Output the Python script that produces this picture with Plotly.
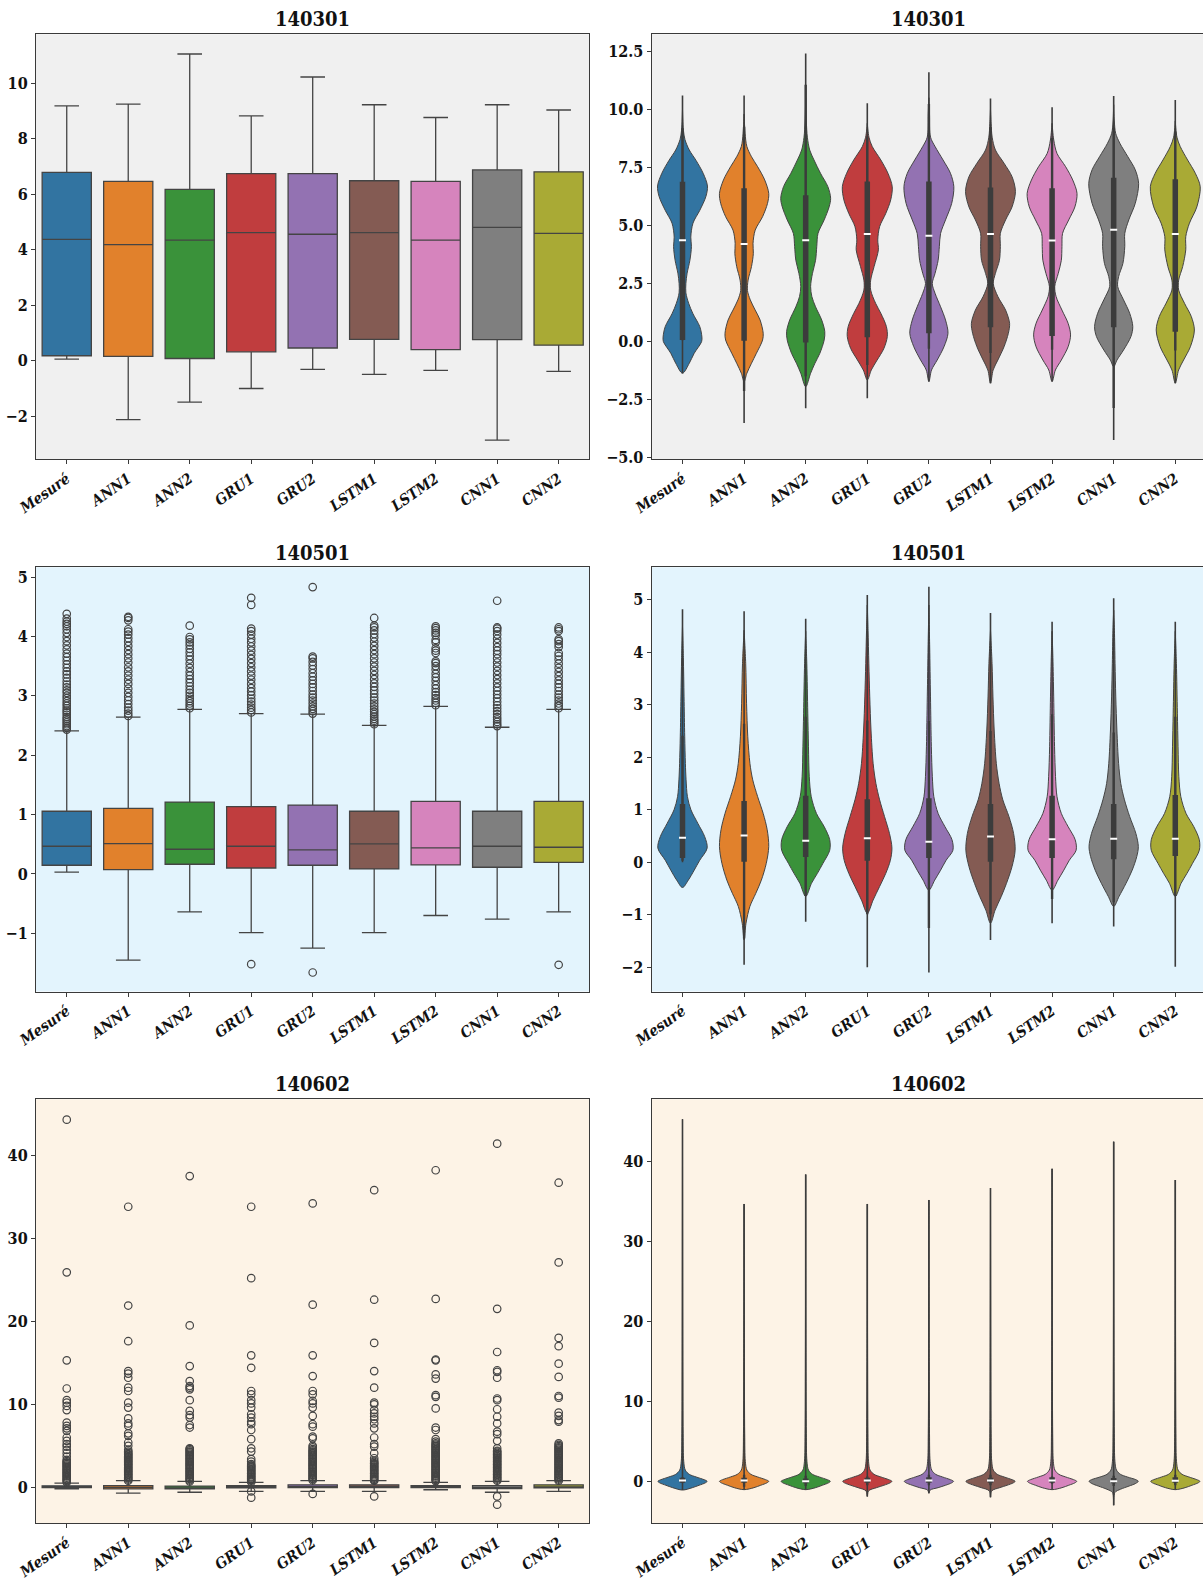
import plotly.graph_objects as go
from plotly.subplots import make_subplots

# ---------------------------------------------------------------- categories
models = ["Mesuré", "ANN1", "ANN2", "GRU1", "GRU2", "LSTM1", "LSTM2", "CNN1", "CNN2"]
colors = ["#3274a1", "#e1812c", "#3a923a", "#c03d3e", "#9372b2",
          "#845b53", "#d684bd", "#7f7f7f", "#a9aa35"]
stations = ["140301", "140501", "140602"]
panel_bg = ["#f0f0f0", "#e3f4fd", "#fdf3e6"]

# ---------------------------------------------------------------- box plots
# station 140301
box_140301_q1 = [0.18, 0.16, 0.08, 0.32, 0.46, 0.77, 0.40, 0.76, 0.56]
box_140301_med = [4.375, 4.19, 4.35, 4.62, 4.56, 4.62, 4.35, 4.81, 4.59]
box_140301_q3 = [6.79, 6.47, 6.18, 6.75, 6.75, 6.49, 6.47, 6.88, 6.81]
box_140301_lo = [0.06, -2.12, -1.49, -1.00, -0.31, -0.49, -0.35, -2.86, -0.38]
box_140301_hi = [9.19, 9.25, 11.06, 8.83, 10.23, 9.23, 8.77, 9.23, 9.04]
box_140301_out = [[], [], [], [], [], [], [], [], []]

# station 140501
box_140501_q1 = [0.146, 0.073, 0.163, 0.10, 0.146, 0.084, 0.152, 0.112, 0.196]
box_140501_med = [0.466, 0.51, 0.415, 0.466, 0.404, 0.505, 0.438, 0.466, 0.449]
box_140501_q3 = [1.055, 1.105, 1.21, 1.134, 1.16, 1.055, 1.223, 1.055, 1.223]
box_140501_lo = [0.03, -1.45, -0.64, -0.99, -1.25, -0.99, -0.70, -0.76, -0.64]
box_140501_hi = [2.41, 2.64, 2.77, 2.70, 2.69, 2.50, 2.82, 2.47, 2.77]
box_140501_out = [
    [2.43, 2.46, 2.49, 2.52, 2.55, 2.58, 2.61, 2.64, 2.68, 2.72, 2.75, 2.79, 2.83, 2.87,
     2.91, 2.96, 3.00, 3.05, 3.09, 3.14, 3.19, 3.24, 3.30, 3.36, 3.41, 3.47, 3.53, 3.59,
     3.65, 3.71, 3.78, 3.85, 3.92, 3.99, 4.06, 4.12, 4.17, 4.21, 4.25, 4.30, 4.38],
    [2.66, 2.70, 2.75, 2.80, 2.86, 2.92, 2.98, 3.05, 3.12, 3.20, 3.27, 3.34, 3.41, 3.48,
     3.56, 3.63, 3.70, 3.77, 3.84, 3.91, 3.97, 4.03, 4.08, 4.12, 4.27, 4.31, 4.33],
    [2.79, 2.83, 2.87, 2.91, 2.95, 3.00, 3.05, 3.10, 3.16, 3.22, 3.28, 3.34, 3.40, 3.47,
     3.54, 3.61, 3.67, 3.73, 3.79, 3.85, 3.90, 3.95, 3.99, 4.18],
    [2.72, 2.76, 2.80, 2.85, 2.90, 2.95, 3.01, 3.07, 3.13, 3.20, 3.27, 3.34, 3.41, 3.48,
     3.55, 3.62, 3.69, 3.76, 3.83, 3.90, 3.96, 4.03, 4.09, 4.13, 4.53, 4.65, -1.52],
    [2.70, 2.74, 2.78, 2.82, 2.87, 2.92, 2.97, 3.02, 3.08, 3.14, 3.20, 3.26, 3.32, 3.38,
     3.45, 3.51, 3.57, 3.63, 3.66, 4.83, -1.66],
    [2.52, 2.55, 2.58, 2.61, 2.65, 2.69, 2.73, 2.77, 2.82, 2.87, 2.92, 2.97, 3.03, 3.09,
     3.15, 3.21, 3.28, 3.35, 3.42, 3.49, 3.56, 3.63, 3.70, 3.77, 3.84, 3.91, 3.98, 4.04,
     4.10, 4.15, 4.18, 4.31],
    [2.84, 2.88, 2.92, 2.96, 3.01, 3.06, 3.12, 3.18, 3.25, 3.31, 3.37, 3.44, 3.50, 3.55,
     3.58, 3.72, 3.76, 3.80, 3.90, 3.94, 4.02, 4.06, 4.10, 4.14, 4.17],
    [2.49, 2.52, 2.56, 2.60, 2.64, 2.69, 2.74, 2.79, 2.84, 2.90, 2.96, 3.02, 3.08, 3.14,
     3.21, 3.28, 3.35, 3.42, 3.49, 3.56, 3.63, 3.70, 3.76, 3.82, 3.89, 3.96, 4.03, 4.09,
     4.13, 4.15, 4.60],
    [2.79, 2.83, 2.87, 2.92, 2.97, 3.02, 3.08, 3.14, 3.20, 3.26, 3.33, 3.40, 3.47, 3.54,
     3.61, 3.67, 3.72, 3.82, 3.87, 3.92, 3.95, 4.09, 4.12, 4.15, -1.53],
]

# station 140602
box_140602_q1 = [-0.05, -0.20, -0.20, -0.08, -0.05, -0.05, -0.05, -0.15, -0.08]
box_140602_med = [0.03, -0.02, -0.08, 0.02, 0.05, 0.06, 0.03, -0.03, 0.00]
box_140602_q3 = [0.18, 0.20, 0.15, 0.20, 0.30, 0.30, 0.20, 0.20, 0.30]
box_140602_lo = [-0.20, -0.70, -0.60, -0.50, -0.50, -0.50, -0.30, -0.60, -0.50]
box_140602_hi = [0.50, 0.80, 0.70, 0.60, 0.80, 0.80, 0.60, 0.70, 0.80]
box_140602_out = [
    [44.3, 25.9, 15.3, 11.9, 10.5, 10.2, 9.8, 9.3, 7.8, 7.4, 7.1, 6.8, 6.0, 5.6, 5.2, 4.9,
     4.5, 4.1, 3.7, 3.3, 3.15, 3.0, 2.9, 2.75, 2.6, 2.5, 2.35, 2.2, 2.1, 1.95, 1.8, 1.7,
     1.55, 1.4, 1.3, 1.15, 1.0, 0.9, 0.75, 0.6],
    [33.8, 21.9, 17.6, 14.0, 13.7, 13.2, 12.0, 11.6, 10.2, 9.6, 8.3, 7.7, 7.4, 6.5, 6.2, 5.4,
     5.0, 4.5, 4.3, 4.15, 4.0, 3.9, 3.75, 3.6, 3.5, 3.35, 3.2, 3.1, 2.95, 2.8, 2.7, 2.55,
     2.4, 2.3, 2.15, 2.0, 1.9, 1.75, 1.6, 1.5, 1.35, 1.2, 1.1, 0.95, 0.8],
    [37.5, 19.5, 14.6, 12.8, 12.2, 12.0, 11.8, 10.5, 9.2, 8.7, 8.4, 7.5, 7.2, 4.7, 4.6, 4.45,
     4.3, 4.2, 4.05, 3.9, 3.8, 3.65, 3.5, 3.4, 3.25, 3.1, 3.0, 2.85, 2.7, 2.6, 2.45, 2.3,
     2.2, 2.05, 1.9, 1.8, 1.65, 1.5, 1.4, 1.25, 1.1, 1.0, 0.85, 0.7],
    [33.8, 25.2, 15.9, 14.4, 11.6, 11.2, 10.5, 10.1, 9.6, 8.8, 8.4, 7.9, 7.6, 6.9, 5.8, 4.7,
     4.3, 3.4, 3.1, 2.8, 2.65, 2.5, 2.4, 2.25, 2.1, 2.0, 1.85, 1.7, 1.6, 1.45, 1.3, 1.2,
     1.05, 0.9, 0.8, 0.65, -0.5, -1.25],
    [34.2, 22.0, 15.9, 13.4, 11.6, 11.2, 10.4, 10.1, 9.6, 8.6, 7.6, 7.3, 6.1, 5.9, 5.0, 4.8,
     4.6, 4.45, 4.3, 4.2, 4.05, 3.9, 3.8, 3.65, 3.5, 3.4, 3.25, 3.1, 3.0, 2.85, 2.7, 2.6,
     2.45, 2.3, 2.2, 2.05, 1.9, 1.8, 1.65, 1.5, 1.4, 1.25, 1.1, 1.0, 0.85, -0.8],
    [35.8, 22.6, 17.4, 14.0, 12.0, 10.2, 10.0, 9.3, 8.9, 8.5, 8.2, 7.7, 7.1, 6.0, 5.2, 4.9,
     4.1, 3.5, 3.2, 3.05, 2.9, 2.8, 2.65, 2.5, 2.4, 2.25, 2.1, 2.0, 1.85, 1.7, 1.6, 1.45,
     1.3, 1.2, 1.05, 0.9, 0.8, -1.1],
    [38.2, 22.7, 15.4, 15.3, 13.6, 13.1, 11.1, 10.9, 9.5, 7.2, 6.9, 5.8, 5.5, 5.3, 5.15,
     5.0, 4.9, 4.75, 4.6, 4.5, 4.35, 4.2, 4.1, 3.95, 3.8, 3.7, 3.55, 3.4, 3.3, 3.15, 3.0,
     2.9, 2.75, 2.6, 2.5, 2.35, 2.2, 2.1, 1.95, 1.8, 1.7, 1.55, 1.4, 1.3, 1.15, 1.0, 0.9,
     0.75],
    [41.4, 21.5, 16.3, 14.1, 13.9, 13.2, 10.7, 10.5, 9.4, 8.5, 7.7, 6.7, 6.4, 5.6, 4.7, 4.4,
     4.3, 4.15, 4.0, 3.9, 3.75, 3.6, 3.5, 3.35, 3.2, 3.1, 2.95, 2.8, 2.7, 2.55, 2.4, 2.3,
     2.15, 2.0, 1.9, 1.75, 1.6, 1.5, 1.35, 1.2, 1.1, 0.95, 0.8, -1.1, -2.1],
    [36.7, 27.1, 18.0, 17.0, 14.9, 13.3, 11.0, 10.8, 9.0, 8.6, 8.1, 7.9, 5.3, 5.1, 4.95,
     4.8, 4.7, 4.55, 4.4, 4.3, 4.15, 4.0, 3.9, 3.75, 3.6, 3.5, 3.35, 3.2, 3.1, 2.95, 2.8,
     2.7, 2.55, 2.4, 2.3, 2.15, 2.0, 1.9, 1.75, 1.6, 1.5, 1.35, 1.2, 1.1, 0.95, 0.8],
]

# ---------------------------------------------------------------- violins
# density profiles: support values and half-widths (in category units)
vio_140301_y = [
    [-1.36, -0.93, -0.5, 0.0, 0.2, 0.65, 1.2, 1.65, 2.1, 2.5, 2.95, 3.5, 4.1, 4.5, 5.1, 5.65,
     6.25, 6.7, 7.25, 7.8, 8.25, 8.7, 9.1, 10.0],
    [-1.72, -1.36, -0.93, -0.5, 0.07, 0.36, 0.93, 1.36, 1.8, 2.2, 2.65, 3.23, 3.8, 4.23, 4.8,
     5.38, 5.95, 6.38, 6.96, 7.53, 7.96, 8.4, 8.97, 9.8],
    [-1.94, -1.36, -0.93, -0.5, 0.07, 0.43, 0.93, 1.5, 1.94, 2.37, 2.94, 3.5, 4.1, 4.66, 5.24,
     5.8, 6.17, 6.67, 7.25, 7.82, 8.25, 8.8, 9.5, 10.5],
    [-1.65, -1.22, -0.79, -0.29, 0.22, 0.65, 1.22, 1.65, 2.22, 2.65, 3.23, 3.95, 4.38, 4.95,
     5.52, 6.1, 6.67, 7.25, 7.82, 8.4, 8.8, 9.4],
    [-1.72, -1.22, -0.79, -0.22, 0.36, 0.93, 1.5, 2.08, 2.5, 2.94, 3.5, 4.1, 4.66, 5.24, 5.95,
     6.67, 7.25, 7.82, 8.4, 8.8, 9.8, 10.5],
    [-1.79, -1.22, -0.79, -0.22, 0.36, 0.79, 1.36, 1.94, 2.5, 2.94, 3.5, 4.1, 4.66, 5.24, 5.8,
     6.46, 7.1, 7.68, 8.25, 8.8, 9.4, 10.0],
    [-1.72, -1.22, -0.79, -0.22, 0.29, 0.79, 1.36, 1.94, 2.37, 2.94, 3.5, 4.1, 4.66, 5.24, 5.8,
     6.38, 6.96, 7.53, 8.1, 8.68, 9.4],
    [-1.08, -0.79, -0.36, 0.22, 0.65, 1.22, 1.8, 2.37, 2.8, 3.37, 4.1, 4.66, 5.24, 5.95, 6.8,
     7.4, 7.96, 8.54, 8.97, 9.5, 10.2],
    [-1.79, -1.22, -0.79, -0.22, 0.5, 1.08, 1.65, 2.22, 2.65, 3.23, 3.95, 4.52, 5.1, 5.8, 6.67,
     7.25, 7.82, 8.4, 8.8, 9.5],
]
vio_140301_w = [
    [0, 0.11, 0.19, 0.31, 0.315, 0.28, 0.17, 0.10, 0.055, 0.055, 0.075, 0.12, 0.145, 0.135,
     0.17, 0.28, 0.38, 0.405, 0.335, 0.22, 0.11, 0.04, 0.015, 0],
    [0, 0.045, 0.12, 0.2, 0.3, 0.31, 0.26, 0.18, 0.1, 0.055, 0.065, 0.12, 0.15, 0.145, 0.18,
     0.3, 0.38, 0.4, 0.335, 0.22, 0.12, 0.045, 0.016, 0],
    [0, 0.08, 0.15, 0.23, 0.3, 0.31, 0.26, 0.16, 0.1, 0.08, 0.11, 0.16, 0.18, 0.2, 0.3, 0.38,
     0.405, 0.36, 0.24, 0.135, 0.065, 0.027, 0.01, 0],
    [0, 0.065, 0.16, 0.27, 0.325, 0.31, 0.22, 0.135, 0.055, 0.055, 0.11, 0.18, 0.17, 0.2, 0.3,
     0.38, 0.405, 0.335, 0.22, 0.08, 0.027, 0],
    [0, 0.043, 0.135, 0.245, 0.31, 0.27, 0.19, 0.1, 0.055, 0.1, 0.15, 0.17, 0.19, 0.27, 0.37,
     0.405, 0.35, 0.23, 0.1, 0.027, 0.01, 0],
    [0, 0.043, 0.12, 0.22, 0.29, 0.31, 0.245, 0.12, 0.045, 0.08, 0.145, 0.16, 0.16, 0.245,
     0.35, 0.405, 0.35, 0.22, 0.08, 0.027, 0.01, 0],
    [0, 0.054, 0.15, 0.26, 0.3, 0.26, 0.16, 0.065, 0.043, 0.1, 0.15, 0.16, 0.17, 0.27, 0.37,
     0.405, 0.335, 0.22, 0.08, 0.027, 0],
    [0, 0.054, 0.16, 0.28, 0.31, 0.26, 0.16, 0.065, 0.08, 0.15, 0.18, 0.18, 0.245, 0.35,
     0.405, 0.35, 0.23, 0.1, 0.032, 0.01, 0],
    [0, 0.054, 0.135, 0.245, 0.31, 0.26, 0.15, 0.055, 0.055, 0.12, 0.17, 0.17, 0.23, 0.35,
     0.405, 0.325, 0.2, 0.08, 0.027, 0],
]
vio_140301_min = [-1.36, -3.5, -2.87, -2.44, -1.72, -1.79, -1.72, -4.23, -1.79]
vio_140301_max = [10.6, 10.6, 12.4, 10.26, 11.6, 10.47, 10.09, 10.57, 10.4]
vio_140301_q1 = [0.07, 0.04, -0.04, 0.19, 0.36, 0.62, 0.24, 0.62, 0.43]
vio_140301_med = [4.36, 4.2, 4.36, 4.63, 4.56, 4.63, 4.35, 4.82, 4.63]
vio_140301_q3 = [6.88, 6.6, 6.3, 6.89, 6.89, 6.64, 6.6, 7.06, 6.99]

vio_140501_y = [
    [-0.48, -0.34, -0.15, 0.04, 0.27, 0.49, 0.74, 1.0, 1.25, 1.57, 1.88, 2.39, 3.15, 3.9, 4.5],
    [-1.48, -1.16, -0.84, -0.59, -0.34, -0.02, 0.3, 0.62, 0.93, 1.25, 1.57, 1.88, 2.39, 3.03,
     3.79, 4.42],
    [-0.65, -0.4, -0.21, -0.02, 0.23, 0.43, 0.68, 0.93, 1.25, 1.63, 2.2, 2.84, 3.79, 4.4],
    [-0.97, -0.72, -0.46, -0.21, 0.04, 0.27, 0.55, 0.87, 1.19, 1.5, 1.88, 2.52, 3.15, 3.79,
     4.42, 4.9],
    [-0.53, -0.34, -0.15, 0.04, 0.23, 0.43, 0.68, 0.93, 1.25, 1.63, 2.2, 3.15, 4.1, 4.9],
    [-1.16, -0.91, -0.65, -0.4, -0.08, 0.23, 0.55, 0.87, 1.19, 1.5, 1.88, 2.52, 3.15, 3.79,
     4.42],
    [-0.53, -0.34, -0.15, 0.04, 0.23, 0.43, 0.68, 0.93, 1.25, 1.63, 2.2, 3.15, 3.9, 4.4],
    [-0.84, -0.65, -0.4, -0.15, 0.11, 0.3, 0.55, 0.87, 1.19, 1.5, 1.88, 2.52, 3.15, 3.79,
     4.42, 4.8],
    [-0.65, -0.4, -0.21, -0.02, 0.23, 0.43, 0.68, 0.93, 1.25, 1.63, 2.2, 2.84, 3.79, 4.4],
]
vio_140501_w = [
    [0, 0.094, 0.19, 0.28, 0.4, 0.36, 0.25, 0.137, 0.08, 0.058, 0.047, 0.036, 0.025, 0.014, 0],
    [0, 0.031, 0.094, 0.19, 0.28, 0.36, 0.4, 0.375, 0.31, 0.22, 0.14, 0.095, 0.06, 0.04,
     0.026, 0],
    [0, 0.094, 0.19, 0.28, 0.39, 0.39, 0.3, 0.175, 0.09, 0.058, 0.045, 0.034, 0.018, 0],
    [0, 0.094, 0.2, 0.3, 0.375, 0.4, 0.36, 0.28, 0.2, 0.14, 0.095, 0.06, 0.04, 0.025,
     0.012, 0],
    [0, 0.094, 0.19, 0.28, 0.39, 0.375, 0.26, 0.15, 0.08, 0.056, 0.04, 0.026, 0.013, 0],
    [0, 0.075, 0.175, 0.26, 0.35, 0.4, 0.375, 0.3, 0.2, 0.14, 0.095, 0.06, 0.04, 0.025, 0],
    [0, 0.094, 0.19, 0.28, 0.39, 0.375, 0.26, 0.15, 0.08, 0.056, 0.04, 0.026, 0.013, 0],
    [0, 0.087, 0.2, 0.3, 0.375, 0.4, 0.36, 0.26, 0.175, 0.115, 0.08, 0.052, 0.034, 0.022,
     0.012, 0],
    [0, 0.094, 0.19, 0.28, 0.39, 0.39, 0.3, 0.175, 0.09, 0.058, 0.045, 0.034, 0.018, 0],
]
vio_140501_min = [0.0, -1.95, -1.13, -2.0, -2.1, -1.48, -1.16, -1.22, -1.99]
vio_140501_max = [4.82, 4.78, 4.64, 5.09, 5.25, 4.75, 4.58, 5.03, 4.58]
vio_140501_q1 = [0.08, 0.01, 0.10, 0.03, 0.08, 0.01, 0.08, 0.06, 0.12]
vio_140501_med = [0.47, 0.51, 0.41, 0.46, 0.39, 0.49, 0.44, 0.45, 0.45]
vio_140501_q3 = [1.11, 1.17, 1.27, 1.20, 1.22, 1.11, 1.27, 1.11, 1.28]

vio_140602_y = [
    [-1.1, -0.8, -0.5, -0.2, 0.0, 0.2, 0.54, 0.87, 1.4, 2.5, 6.0, 15.0, 45.3],
    [-1.05, -0.8, -0.5, -0.2, 0.0, 0.2, 0.54, 0.87, 1.4, 2.5, 6.0, 15.0, 34.7],
    [-1.05, -0.8, -0.5, -0.2, 0.0, 0.2, 0.54, 0.87, 1.4, 2.5, 6.0, 15.0, 38.4],
    [-1.9, -1.2, -0.8, -0.5, -0.2, 0.0, 0.2, 0.54, 0.87, 1.4, 2.5, 6.0, 15.0, 34.7],
    [-1.5, -1.1, -0.8, -0.5, -0.2, 0.0, 0.2, 0.54, 0.87, 1.4, 2.5, 6.0, 15.0, 35.2],
    [-2.0, -1.2, -0.8, -0.5, -0.2, 0.0, 0.2, 0.54, 0.87, 1.4, 2.5, 6.0, 15.0, 36.7],
    [-1.05, -0.8, -0.5, -0.2, 0.0, 0.2, 0.54, 0.87, 1.4, 2.5, 6.0, 15.0, 39.1],
    [-3.0, -1.4, -1.0, -0.6, -0.3, 0.0, 0.2, 0.54, 0.87, 1.4, 2.5, 6.0, 15.0, 42.5],
    [-1.05, -0.8, -0.5, -0.2, 0.0, 0.2, 0.54, 0.87, 1.4, 2.5, 6.0, 15.0, 37.7],
]
vio_140602_w = [
    [0, 0.16, 0.27, 0.37, 0.4, 0.35, 0.22, 0.11, 0.045, 0.02, 0.01, 0.005, 0],
    [0, 0.16, 0.27, 0.37, 0.4, 0.35, 0.22, 0.11, 0.045, 0.02, 0.01, 0.005, 0],
    [0, 0.16, 0.27, 0.37, 0.4, 0.35, 0.22, 0.11, 0.045, 0.02, 0.01, 0.005, 0],
    [0, 0.02, 0.15, 0.27, 0.37, 0.4, 0.35, 0.22, 0.11, 0.045, 0.02, 0.01, 0.005, 0],
    [0, 0.02, 0.15, 0.27, 0.37, 0.4, 0.35, 0.22, 0.11, 0.045, 0.02, 0.01, 0.005, 0],
    [0, 0.02, 0.15, 0.27, 0.37, 0.4, 0.35, 0.22, 0.11, 0.045, 0.02, 0.01, 0.005, 0],
    [0, 0.16, 0.27, 0.37, 0.4, 0.35, 0.22, 0.11, 0.045, 0.02, 0.01, 0.005, 0],
    [0, 0.02, 0.11, 0.25, 0.35, 0.4, 0.36, 0.22, 0.11, 0.045, 0.02, 0.01, 0.005, 0],
    [0, 0.16, 0.27, 0.37, 0.4, 0.35, 0.22, 0.11, 0.045, 0.02, 0.01, 0.005, 0],
]
vio_140602_min = [-1.1, -1.05, -1.05, -1.9, -1.5, -2.0, -1.05, -3.0, -1.05]
vio_140602_max = [45.3, 34.7, 38.4, 34.7, 35.2, 36.7, 39.1, 42.5, 37.7]
vio_140602_q1 = [-0.2, -0.2, -0.25, -0.2, -0.2, -0.2, -0.2, -0.25, -0.2]
vio_140602_med = [0.1, 0.1, 0.0, 0.1, 0.1, 0.1, 0.1, 0.0, 0.05]
vio_140602_q3 = [0.45, 0.45, 0.35, 0.45, 0.5, 0.45, 0.5, 0.4, 0.5]

# ---------------------------------------------------------------- styling
FONT = "DejaVu Serif Condensed, Liberation Serif, serif"
EDGE = "#444444"
SPINE = "#3a3a3a"
INNER = "#3c3c3c"

box_sets = [
    (box_140301_q1, box_140301_med, box_140301_q3, box_140301_lo, box_140301_hi, box_140301_out),
    (box_140501_q1, box_140501_med, box_140501_q3, box_140501_lo, box_140501_hi, box_140501_out),
    (box_140602_q1, box_140602_med, box_140602_q3, box_140602_lo, box_140602_hi, box_140602_out),
]
vio_sets = [
    (vio_140301_y, vio_140301_w, vio_140301_min, vio_140301_max, vio_140301_q1, vio_140301_med, vio_140301_q3),
    (vio_140501_y, vio_140501_w, vio_140501_min, vio_140501_max, vio_140501_q1, vio_140501_med, vio_140501_q3),
    (vio_140602_y, vio_140602_w, vio_140602_min, vio_140602_max, vio_140602_q1, vio_140602_med, vio_140602_q3),
]

y_ranges_box = [[-3.55, 11.77], [-1.98, 5.165], [-4.34, 46.75]]
y_ranges_vio = [[-5.06, 13.23], [-2.46, 5.62], [-5.26, 47.8]]
y_ticks_box = [[-2, 0, 2, 4, 6, 8, 10], [-1, 0, 1, 2, 3, 4, 5], [0, 10, 20, 30, 40]]
y_ticks_vio = [[-5, -2.5, 0, 2.5, 5, 7.5, 10, 12.5], [-2, -1, 0, 1, 2, 3, 4, 5], [0, 10, 20, 30, 40]]
y_dec_vio = [1, 0, 0]


def fmt_tick(v, dec):
    s = f"{abs(v):.{dec}f}"
    return f"<b>{'\u2212' if v < 0 else ''}{s}</b>"


W, H = 1203, 1582
left_dom = [36.0 / W, 589.4 / W]
right_dom = [651.7 / W, 1.0]
row_dom = [[1 - 459.2 / H, 1 - 34.3 / H],
           [1 - 991.5 / H, 1 - 567.2 / H],
           [1 - 1523.3 / H, 1 - 1099.3 / H]]
title_y = [1 - 19.3 / H, 1 - 552.7 / H, 1 - 1084.0 / H]

fig = make_subplots(rows=3, cols=2)
xpos = list(range(len(models)))

for r in range(3):
    q1, med, q3, lo, hi, outs = box_sets[r]
    for i in xpos:
        fig.add_trace(go.Box(
            x=[i], q1=[q1[i]], median=[med[i]], q3=[q3[i]],
            lowerfence=[lo[i]], upperfence=[hi[i]],
            width=0.8, whiskerwidth=0.5, fillcolor=colors[i],
            line=dict(color=EDGE, width=1.3), boxpoints=False, hoverinfo="skip",
        ), row=r + 1, col=1)
        if outs[i]:
            fig.add_trace(go.Scatter(
                x=[i] * len(outs[i]), y=outs[i], mode="markers",
                marker=dict(symbol="circle-open", size=7.5, color=EDGE, line=dict(width=1.2)),
                hoverinfo="skip",
            ), row=r + 1, col=1)

    vy, vw, vmin, vmax, vq1, vmed, vq3 = vio_sets[r]
    for i in xpos:
        ys = vy[i] + vy[i][::-1]
        xs = [i + w for w in vw[i]] + [i - w for w in vw[i][::-1]]
        fig.add_trace(go.Scatter(
            x=xs, y=ys, mode="lines", fill="toself", fillcolor=colors[i],
            line=dict(color=EDGE, width=1, shape="spline", smoothing=0.9),
            hoverinfo="skip",
        ), row=r + 1, col=2)
        fig.add_trace(go.Scatter(
            x=[i, i], y=[vmin[i], vmax[i]], mode="lines",
            line=dict(color=INNER, width=1.6), hoverinfo="skip",
        ), row=r + 1, col=2)
        fig.add_trace(go.Scatter(
            x=[i, i], y=[lo[i], hi[i]], mode="lines",
            line=dict(color=INNER, width=2.4), hoverinfo="skip",
        ), row=r + 1, col=2)
        fig.add_trace(go.Scatter(
            x=[i, i], y=[vq1[i], vq3[i]], mode="lines",
            line=dict(color=INNER, width=5.5), hoverinfo="skip",
        ), row=r + 1, col=2)
        fig.add_trace(go.Scatter(
            x=[i], y=[vmed[i]], mode="markers",
            marker=dict(symbol="line-ew", size=5, line=dict(color="white", width=2)),
            hoverinfo="skip",
        ), row=r + 1, col=2)

tick_font = dict(family=FONT, size=16, color="#111111")
xtick_font = dict(family=FONT, size=15, color="#111111")
xtick_text = [f"<b><i>{m}</i></b>" for m in models]

for r in range(3):
    for c in range(2):
        idx = r * 2 + c + 1
        xa = "xaxis" if idx == 1 else f"xaxis{idx}"
        ya = "yaxis" if idx == 1 else f"yaxis{idx}"
        yt = y_ticks_box[r] if c == 0 else y_ticks_vio[r]
        dec = 0 if c == 0 else y_dec_vio[r]
        fig.layout[xa].update(
            domain=left_dom if c == 0 else right_dom,
            range=[-0.5, 8.5] if c == 0 else [-0.5, 8.45],
            tickmode="array", tickvals=xpos, ticktext=xtick_text, tickangle=-35,
            tickfont=xtick_font, ticks="outside", ticklen=4, tickwidth=1.2,
            tickcolor=SPINE, showline=True, linecolor=SPINE, linewidth=1.3,
            mirror=True, showgrid=False, zeroline=False, fixedrange=True,
            automargin=False,
        )
        fig.layout[ya].update(
            domain=row_dom[r],
            range=y_ranges_box[r] if c == 0 else y_ranges_vio[r],
            tickmode="array", tickvals=yt, ticktext=[fmt_tick(v, dec) for v in yt],
            tickfont=tick_font, ticks="outside", ticklen=4, tickwidth=1.2,
            tickcolor=SPINE, showline=True, linecolor=SPINE, linewidth=1.3,
            mirror=(c == 0), showgrid=False, zeroline=False, fixedrange=True,
            automargin=False,
        )
        xref = "x" if idx == 1 else f"x{idx}"
        yref = "y" if idx == 1 else f"y{idx}"
        fig.add_shape(type="rect", xref=f"{xref} domain", yref=f"{yref} domain",
                      x0=0, x1=1, y0=0, y1=1, fillcolor=panel_bg[r],
                      line=dict(width=0), layer="below")
        cx = (left_dom[0] + left_dom[1]) / 2 if c == 0 else (651.7 + 4.5 * 61.6) / W
        fig.add_annotation(text=f"<b>{stations[r]}</b>", x=cx, y=title_y[r],
                           xref="paper", yref="paper", xanchor="center", yanchor="middle",
                           showarrow=False, font=dict(family=FONT, size=20, color="#111111"))

fig.update_layout(
    width=W, height=H, margin=dict(l=0, r=0, t=0, b=0),
    paper_bgcolor="white", plot_bgcolor="rgba(0,0,0,0)",
    showlegend=False, boxmode="overlay",
)

fig.write_html("out.html")
